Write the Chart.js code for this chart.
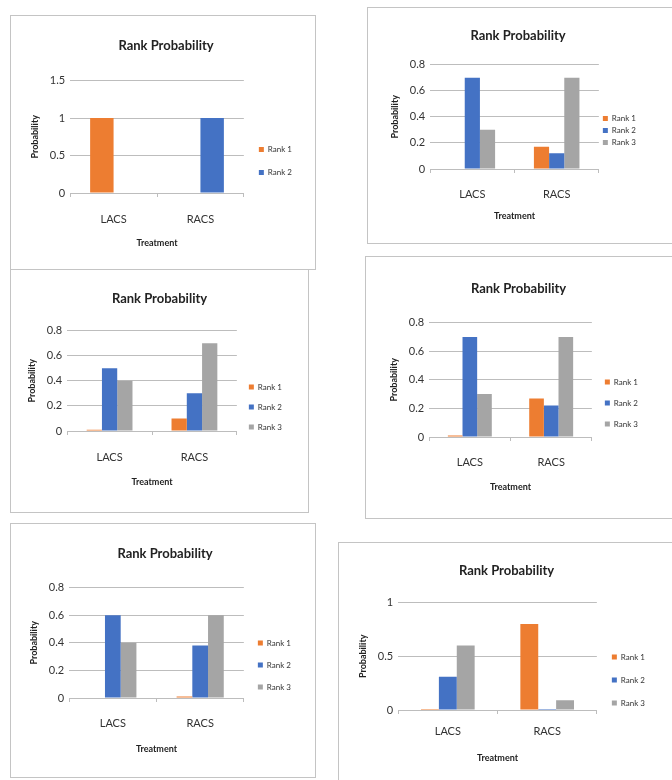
<!DOCTYPE html>
<html>
<head>
<meta charset="utf-8">
<script src="https://cdn.jsdelivr.net/npm/chart.js@4.4.1/dist/chart.umd.min.js"></script>
<style>
  html, body { margin: 0; padding: 0; background: #fff; }
  body { width: 672px; height: 780px; position: relative; overflow: hidden; }
  .panel { position: absolute; box-sizing: border-box; border: 1px solid #c4c4c4; background: #fff; }
  .panel canvas { position: absolute; left: 0; top: 0; }
</style>
</head>
<body>
<div class="panel" id="box1" style="left:10px;top:15px;width:306px;height:255px;"><canvas id="c1"></canvas></div>
<div class="panel" id="box2" style="left:367px;top:7px;width:310px;height:237px;"><canvas id="c2"></canvas></div>
<div class="panel" id="box3" style="left:10px;top:269px;width:299px;height:244px;"><canvas id="c3"></canvas></div>
<div class="panel" id="box4" style="left:365px;top:256px;width:312px;height:263px;"><canvas id="c4"></canvas></div>
<div class="panel" id="box5" style="left:10px;top:523px;width:306px;height:255px;"><canvas id="c5"></canvas></div>
<div class="panel" id="box6" style="left:338px;top:542px;width:340px;height:245px;"><canvas id="c6"></canvas></div>
<script>
const categories = ["LACS", "RACS"];
const rankLabels = ["Rank 1", "Rank 2", "Rank 3"];
const rankColors = ["#ED7D31", "#4472C4", "#A5A5A5"];

// panel 1 (two ranks only)
const p1Rank1 = [1, 0];
const p1Rank2 = [0, 1];
const p1Ticks = [0, 0.5, 1, 1.5];

// panel 2
const p2Rank1 = [0, 0.17];
const p2Rank2 = [0.7, 0.12];
const p2Rank3 = [0.3, 0.7];

// panel 3
const p3Rank1 = [0.01, 0.1];
const p3Rank2 = [0.5, 0.3];
const p3Rank3 = [0.4, 0.7];

// panel 4
const p4Rank1 = [0.01, 0.27];
const p4Rank2 = [0.7, 0.22];
const p4Rank3 = [0.3, 0.7];

// panel 5
const p5Rank1 = [0, 0.01];
const p5Rank2 = [0.6, 0.38];
const p5Rank3 = [0.4, 0.6];

// panel 6
const p6Rank1 = [0.01, 0.8];
const p6Rank2 = [0.31, 0.01];
const p6Rank3 = [0.6, 0.09];

const smallTicks = [0, 0.2, 0.4, 0.6, 0.8];
const p6Ticks = [0, 0.5, 1];

const FONT = "Lato, 'Open Sans', sans-serif";

function makeChart(n, series, ticks, pad) {
    const box = document.getElementById("box" + n);
    const canvas = document.getElementById("c" + n);
    canvas.width = box.clientWidth;
    canvas.height = box.clientHeight;
    canvas.style.width = box.clientWidth + "px";
    canvas.style.height = box.clientHeight + "px";

    const datasets = series.map((data, i) => ({
        label: rankLabels[i],
        data: data,
        backgroundColor: rankColors[i],
        borderWidth: 0,
    }));

    new Chart(canvas.getContext("2d"), {
        type: "bar",
        data: { labels: categories, datasets: datasets },
        options: {
            responsive: false,
            animation: false,
            devicePixelRatio: 1,
            categoryPercentage: 0.54,
            barPercentage: 1,
            layout: { padding: pad.layout },
            plugins: {
                title: {
                    display: true,
                    text: "Rank Probability",
                    color: "#222",
                    font: { family: FONT, size: 13, weight: "bold" },
                    padding: { top: 0, bottom: pad.titleGap },
                },
                legend: {
                    position: "right",
                    // empty legend title only pushes the items down a bit
                    title: {
                        display: true,
                        text: "",
                        font: { size: 1 },
                        padding: { top: Math.max(0, pad.legendShift * 2 - 1.2), bottom: 0 },
                    },
                    labels: {
                        boxWidth: 5,
                        boxHeight: 5,
                        padding: pad.legendGap - 8,
                        color: "#333",
                        font: { family: FONT, size: 8 },
                    },
                },
                tooltip: { enabled: false },
            },
            scales: {
                x: {
                    grid: {
                        offset: true,
                        drawOnChartArea: false,
                        drawTicks: true,
                        tickLength: 4,
                        color: "#bdbdbd",
                    },
                    border: { display: true, color: "#bdbdbd" },
                    ticks: { color: "#333", font: { family: FONT, size: 11 }, padding: pad.tickPad },
                    title: {
                        display: true,
                        text: "Treatment",
                        color: "#222",
                        font: { family: FONT, size: 9, weight: "bold" },
                        padding: { top: pad.xTitlePad, bottom: 0 },
                    },
                },
                y: {
                    min: ticks[0],
                    max: ticks[ticks.length - 1],
                    afterBuildTicks: (axis) => {
                        axis.ticks = ticks.map((v) => ({ value: v }));
                    },
                    grid: { color: "#bdbdbd", drawTicks: false },
                    border: { display: false },
                    ticks: {
                        color: "#333",
                        font: { family: FONT, size: 11 },
                        padding: 5,
                        callback: (v) => String(+Number(v).toFixed(2)),
                    },
                    title: {
                        display: true,
                        text: "Probability",
                        color: "#222",
                        font: { family: FONT, size: 9, weight: "bold" },
                        padding: { top: 0, bottom: 4 },
                    },
                },
            },
        },
    });
}

makeChart(1, [p1Rank1, p1Rank2], p1Ticks,
    { layout: { left: 19, right: 13, top: 22, bottom: 21 }, titleGap: 27,
      tickPad: 16, xTitlePad: -5, legendGap: 23, legendShift: 18 });
makeChart(2, [p2Rank1, p2Rank2, p2Rank3], smallTicks,
    { layout: { left: 22, right: 30, top: 20, bottom: 22 }, titleGap: 21,
      tickPad: 15, xTitlePad: -6, legendGap: 12, legendShift: 6 });
makeChart(3, [p3Rank1, p3Rank2, p3Rank3], smallTicks,
    { layout: { left: 16, right: 16, top: 21, bottom: 25 }, titleGap: 24,
      tickPad: 16, xTitlePad: -4, legendGap: 20, legendShift: 18 });
makeChart(4, [p4Rank1, p4Rank2, p4Rank3], smallTicks,
    { layout: { left: 23, right: 28, top: 24, bottom: 26 }, titleGap: 26,
      tickPad: 15, xTitlePad: -3, legendGap: 21, legendShift: 16.5 });
makeChart(5, [p5Rank1, p5Rank2, p5Rank3], smallTicks,
    { layout: { left: 18, right: 14, top: 22, bottom: 23 }, titleGap: 26,
      tickPad: 15, xTitlePad: -2, legendGap: 22, legendShift: 15 });
makeChart(6, [p6Rank1, p6Rank2, p6Rank3], p6Ticks,
    { layout: { left: 19, right: 22, top: 20, bottom: 23 }, titleGap: 24,
      tickPad: 11, xTitlePad: 3, legendGap: 23, legendShift: 17 });
</script>
</body>
</html>
